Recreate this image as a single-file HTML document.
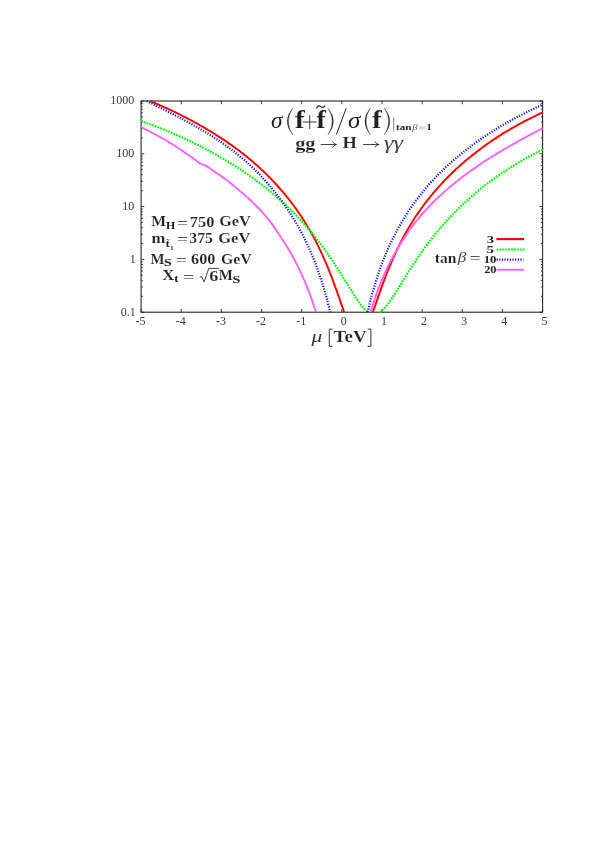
<!DOCTYPE html>
<html><head><meta charset="utf-8"><title>plot</title>
<style>
html,body{margin:0;padding:0;background:#fff;}
body{width:604px;height:854px;overflow:hidden;}
svg{display:block;will-change:transform;}
text{font-family:"Liberation Serif",serif;}
.b{font-weight:bold;stroke:#fff;stroke-width:0.15px;}
.bs{font-weight:bold;}
.i{font-style:italic;}
</style></head><body>
<svg width="604" height="854" viewBox="0 0 604 854" fill="#222">
<rect width="604" height="854" fill="#fff"/>
<!-- axes -->
<g fill="none" stroke="#262626" stroke-width="1.1">
<rect x="141.10" y="101.00" width="401.50" height="211.20"/>
<path d="M141.10 312.20v-3.2M141.10 101.00v3.2M181.25 312.20v-3.2M181.25 101.00v3.2M221.40 312.20v-3.2M221.40 101.00v3.2M261.55 312.20v-3.2M261.55 101.00v3.2M301.70 312.20v-3.2M301.70 101.00v3.2M341.85 312.20v-3.2M341.85 101.00v3.2M382.00 312.20v-3.2M382.00 101.00v3.2M422.15 312.20v-3.2M422.15 101.00v3.2M462.30 312.20v-3.2M462.30 101.00v3.2M502.45 312.20v-3.2M502.45 101.00v3.2M542.60 312.20v-3.2M542.60 101.00v3.2M141.10 312.20h3.2M542.60 312.20h-3.2M141.10 296.31h1.7M542.60 296.31h-1.7M141.10 287.01h1.7M542.60 287.01h-1.7M141.10 280.41h1.7M542.60 280.41h-1.7M141.10 275.29h1.7M542.60 275.29h-1.7M141.10 271.11h1.7M542.60 271.11h-1.7M141.10 267.58h1.7M542.60 267.58h-1.7M141.10 264.52h1.7M542.60 264.52h-1.7M141.10 261.82h1.7M542.60 261.82h-1.7M141.10 259.40h3.2M542.60 259.40h-3.2M141.10 243.51h1.7M542.60 243.51h-1.7M141.10 234.21h1.7M542.60 234.21h-1.7M141.10 227.61h1.7M542.60 227.61h-1.7M141.10 222.49h1.7M542.60 222.49h-1.7M141.10 218.31h1.7M542.60 218.31h-1.7M141.10 214.78h1.7M542.60 214.78h-1.7M141.10 211.72h1.7M542.60 211.72h-1.7M141.10 209.02h1.7M542.60 209.02h-1.7M141.10 206.60h3.2M542.60 206.60h-3.2M141.10 190.71h1.7M542.60 190.71h-1.7M141.10 181.41h1.7M542.60 181.41h-1.7M141.10 174.81h1.7M542.60 174.81h-1.7M141.10 169.69h1.7M542.60 169.69h-1.7M141.10 165.51h1.7M542.60 165.51h-1.7M141.10 161.98h1.7M542.60 161.98h-1.7M141.10 158.92h1.7M542.60 158.92h-1.7M141.10 156.22h1.7M542.60 156.22h-1.7M141.10 153.80h3.2M542.60 153.80h-3.2M141.10 137.91h1.7M542.60 137.91h-1.7M141.10 128.61h1.7M542.60 128.61h-1.7M141.10 122.01h1.7M542.60 122.01h-1.7M141.10 116.89h1.7M542.60 116.89h-1.7M141.10 112.71h1.7M542.60 112.71h-1.7M141.10 109.18h1.7M542.60 109.18h-1.7M141.10 106.12h1.7M542.60 106.12h-1.7M141.10 103.42h1.7M542.60 103.42h-1.7M141.10 101.00h3.2M542.60 101.00h-3.2" stroke-width="0.9"/>
</g>
<!-- tick labels -->
<g fill="#383838" font-size="12"><text x="140.6" y="325.4" text-anchor="middle">-5</text><text x="180.8" y="325.4" text-anchor="middle">-4</text><text x="220.9" y="325.4" text-anchor="middle">-3</text><text x="261.0" y="325.4" text-anchor="middle">-2</text><text x="301.2" y="325.4" text-anchor="middle">-1</text><text x="343.8" y="325.4" text-anchor="middle">0</text><text x="383.9" y="325.4" text-anchor="middle">1</text><text x="424.0" y="325.4" text-anchor="middle">2</text><text x="464.2" y="325.4" text-anchor="middle">3</text><text x="504.3" y="325.4" text-anchor="middle">4</text><text x="544.5" y="325.4" text-anchor="middle">5</text><text x="134.3" y="104.3" text-anchor="end">1000</text><text x="134.3" y="157.1" text-anchor="end">100</text><text x="134.3" y="209.9" text-anchor="end">10</text><text x="135.7" y="262.7" text-anchor="end">1</text><text x="135.7" y="315.5" text-anchor="end">0.1</text></g>
<!-- curves -->
<g fill="none" stroke-linejoin="round">
<path d="M150.0 101.0L150.5 101.2L152.0 101.9L153.6 102.5L155.2 103.2L156.7 103.9L158.3 104.5L159.8 105.2L161.4 105.9L163.0 106.6L164.5 107.3L166.1 108.0L167.6 108.7L169.2 109.5L170.8 110.2L172.3 110.9L173.9 111.7L175.5 112.4L177.0 113.2L178.6 113.9L180.1 114.7L181.7 115.5L183.3 116.3L184.8 117.1L186.4 117.9L187.9 118.7L189.5 119.5L191.1 120.3L192.6 121.2L194.2 122.0L195.7 122.8L197.3 123.7L198.9 124.6L200.4 125.5L202.0 126.3L203.6 127.2L205.1 128.1L206.7 129.1L208.2 130.0L209.8 130.9L211.4 131.9L212.9 132.8L214.5 133.8L216.0 134.8L217.6 135.8L219.2 136.8L220.7 137.8L222.3 138.8L223.9 139.9L225.4 140.9L227.0 142.0L228.5 143.1L230.1 144.1L231.7 145.2L233.2 146.4L234.8 147.5L236.3 148.7L237.9 149.8L239.5 151.0L241.0 152.2L242.6 153.4L244.2 154.6L245.7 155.9L247.3 157.1L248.8 158.4L250.4 159.7L252.0 161.0L253.5 162.4L255.1 163.7L256.6 165.1L258.2 166.5L259.8 167.9L261.3 169.4L262.9 170.8L264.4 172.3L266.0 173.8L267.6 175.4L269.1 177.0L270.7 178.5L272.3 180.2L273.8 181.8L275.4 183.5L276.9 185.2L278.5 187.0L280.1 188.8L281.6 190.5L282.1 191.1L282.6 191.7L283.2 192.3L283.7 192.9L284.2 193.5L284.7 194.1L285.2 194.8L285.7 195.4L286.2 196.0L286.7 196.6L287.2 197.2L287.7 197.9L288.2 198.5L288.8 199.2L289.3 199.8L289.8 200.5L290.3 201.1L290.8 201.8L291.3 202.4L291.8 203.1L292.3 203.8L292.8 204.5L293.3 205.1L293.9 205.8L294.4 206.5L294.9 207.2L295.4 207.9L295.9 208.6L296.4 209.4L296.9 210.1L297.4 210.8L297.9 211.5L298.4 212.3L299.0 213.0L299.5 213.7L300.0 214.5L300.5 215.3L301.0 216.0L301.5 216.8L302.0 217.6L302.5 218.4L303.0 219.1L303.5 219.9L304.0 220.7L304.6 221.5L305.1 222.4L305.6 223.2L306.1 224.0L306.6 224.9L307.1 225.7L307.6 226.5L308.1 227.4L308.6 228.3L309.1 229.1L309.7 230.0L310.2 230.9L310.7 231.8L311.2 232.7L311.7 233.6L312.2 234.5L312.7 235.5L313.2 236.4L313.7 237.3L314.2 238.3L314.7 239.3L315.3 240.2L315.8 241.2L316.3 242.2L316.8 243.2L317.3 244.2L317.8 245.2L318.3 246.3L318.8 247.3L319.3 248.4L319.8 249.4L320.4 250.5L320.9 251.6L321.4 252.7L321.9 253.8L322.4 254.9L322.9 256.0L323.4 257.1L323.9 258.3L324.4 259.4L324.9 260.6L325.5 261.8L326.0 263.0L326.5 264.2L327.0 265.4L327.5 266.6L328.0 267.9L328.5 269.1L329.0 270.4L329.5 271.7L330.0 273.0L330.5 274.3L331.1 275.6L331.6 276.9L332.1 278.2L332.6 279.6L333.1 280.9L333.6 282.3L334.1 283.7L334.6 285.1L335.1 286.5L335.6 287.9L336.2 289.3L336.7 290.8L337.2 292.2L337.7 293.7L338.2 295.1L338.7 296.6L339.2 298.0L339.7 299.5L340.2 301.0L340.7 302.4L341.2 303.9L341.8 305.4L342.3 306.8L342.8 308.3L343.3 309.7L343.8 311.2L344.2 312.2M372.8 312.2L373.4 310.8L373.9 309.3L374.4 307.9L374.9 306.4L375.4 305.0L375.9 303.5L376.4 302.0L376.9 300.6L377.4 299.1L377.9 297.6L378.4 296.2L379.0 294.7L379.5 293.2L380.0 291.8L380.5 290.4L381.0 288.9L381.5 287.5L382.0 286.1L382.5 284.7L383.0 283.3L383.5 281.9L384.1 280.5L384.6 279.2L385.1 277.8L385.6 276.5L386.1 275.2L386.6 273.8L387.1 272.5L387.6 271.3L388.1 270.0L388.6 268.7L389.1 267.5L389.7 266.2L390.2 265.0L390.7 263.8L391.2 262.6L391.7 261.4L392.2 260.2L392.7 259.1L393.2 257.9L393.7 256.8L394.2 255.6L394.8 254.5L395.3 253.4L395.8 252.3L396.3 251.2L396.8 250.1L397.3 249.1L397.8 248.0L398.3 247.0L398.8 245.9L399.3 244.9L399.9 243.9L400.4 242.9L400.9 241.9L401.4 240.9L401.9 239.9L402.4 239.0L402.9 238.0L403.4 237.0L403.9 236.1L404.4 235.2L404.9 234.2L405.5 233.3L406.0 232.4L406.5 231.5L407.0 230.6L407.5 229.8L408.0 228.9L408.5 228.0L409.0 227.2L409.5 226.3L410.0 225.5L410.6 224.6L411.1 223.8L411.6 223.0L412.1 222.2L412.6 221.4L413.1 220.6L413.6 219.8L414.1 219.0L415.6 216.6L417.2 214.4L418.7 212.1L420.2 210.0L421.8 207.8L423.3 205.7L424.8 203.7L426.4 201.7L427.9 199.7L429.4 197.8L430.9 195.9L432.5 194.1L434.0 192.2L435.5 190.5L437.1 188.7L438.6 187.0L440.1 185.3L441.7 183.6L443.2 182.0L444.7 180.4L446.2 178.8L447.8 177.2L449.3 175.7L450.8 174.2L452.4 172.7L453.9 171.3L455.4 169.8L456.9 168.4L458.5 167.0L460.0 165.6L461.5 164.3L463.1 162.9L464.6 161.6L466.1 160.3L467.7 159.0L469.2 157.8L470.7 156.5L472.2 155.3L473.8 154.1L475.3 152.9L476.8 151.7L478.4 150.5L479.9 149.4L481.4 148.2L482.9 147.1L484.5 146.0L486.0 144.9L487.5 143.8L489.1 142.7L490.6 141.7L492.1 140.6L493.7 139.6L495.2 138.6L496.7 137.6L498.2 136.6L499.8 135.6L501.3 134.6L502.8 133.7L504.4 132.7L505.9 131.8L507.4 130.9L509.0 130.0L510.5 129.1L512.0 128.2L513.5 127.3L515.1 126.4L516.6 125.6L518.1 124.7L519.7 123.9L521.2 123.1L522.7 122.3L524.2 121.4L525.8 120.6L527.3 119.9L528.8 119.1L530.4 118.3L531.9 117.6L533.4 116.8L535.0 116.1L536.5 115.3L538.0 114.6L539.5 113.9L541.1 113.2L542.6 112.5" stroke="#ff0000" stroke-width="1.95"/>
<path d="M141.1 120.9L142.7 121.5L144.2 122.0L145.8 122.6L147.3 123.2L148.9 123.8L150.5 124.3L152.0 124.9L153.6 125.5L155.2 126.1L156.7 126.7L158.3 127.3L159.8 127.9L161.4 128.6L163.0 129.2L164.5 129.8L166.1 130.5L167.6 131.1L169.2 131.8L170.8 132.4L172.3 133.1L173.9 133.8L175.5 134.5L177.0 135.1L178.6 135.8L180.1 136.5L181.7 137.2L183.3 137.9L184.8 138.7L186.4 139.4L187.9 140.1L189.5 140.9L191.1 141.6L192.6 142.4L194.2 143.1L195.7 143.9L197.3 144.7L198.9 145.5L200.4 146.3L202.0 147.0L203.6 147.9L205.1 148.7L206.7 149.5L208.2 150.3L209.8 151.2L211.4 152.0L212.9 152.9L214.5 153.7L216.0 154.6L217.6 155.5L219.2 156.4L220.7 157.3L222.3 158.2L223.9 159.1L225.4 160.0L227.0 161.0L228.5 161.9L230.1 162.9L231.7 163.8L233.2 164.8L234.8 165.8L236.3 166.8L237.9 167.8L239.5 168.8L241.0 169.8L242.6 170.9L244.2 171.9L245.7 173.0L247.3 174.1L248.8 175.2L250.4 176.3L252.0 177.4L253.5 178.5L255.1 179.6L256.6 180.8L258.2 182.0L259.8 183.1L261.3 184.3L262.9 185.5L264.4 186.8L266.0 188.0L267.6 189.2L269.1 190.5L270.7 191.8L272.3 193.1L273.8 194.4L275.4 195.7L276.9 197.1L278.5 198.5L280.1 199.9L281.6 201.3L282.1 201.7L282.6 202.2L283.2 202.7L283.7 203.1L284.2 203.6L284.7 204.1L285.2 204.6L285.7 205.0L286.2 205.5L286.7 206.0L287.2 206.5L287.7 207.0L288.2 207.5L288.8 207.9L289.3 208.4L289.8 208.9L290.3 209.4L290.8 209.9L291.3 210.4L291.8 210.9L292.3 211.5L292.8 212.0L293.3 212.5L293.9 213.0L294.4 213.5L294.9 214.0L295.4 214.6L295.9 215.1L296.4 215.6L296.9 216.1L297.4 216.7L297.9 217.2L298.4 217.8L299.0 218.3L299.5 218.8L300.0 219.4L300.5 219.9L301.0 220.5L301.5 221.0L302.0 221.6L302.5 222.2L303.0 222.7L303.5 223.3L304.0 223.9L304.6 224.4L305.1 225.0L305.6 225.6L306.1 226.2L306.6 226.7L307.1 227.3L307.6 227.9L308.1 228.5L308.6 229.1L309.1 229.7L309.7 230.3L310.2 230.9L310.7 231.5L311.2 232.1L311.7 232.8L312.2 233.4L312.7 234.0L313.2 234.6L313.7 235.2L314.2 235.9L314.7 236.5L315.3 237.1L315.8 237.8L316.3 238.4L316.8 239.1L317.3 239.7L317.8 240.4L318.3 241.0L318.8 241.7L319.3 242.4L319.8 243.0L320.4 243.7L320.9 244.4L321.4 245.1L321.9 245.6L322.4 246.3L322.9 247.0L323.4 247.7L323.9 248.4L324.4 249.1L324.9 249.8L325.5 250.5L326.0 251.3L326.5 252.0L327.0 252.7L327.5 253.4L328.0 254.2L328.5 254.9L329.0 255.6L329.5 256.4L330.0 257.1L330.5 257.9L331.1 258.6L331.6 259.4L332.1 260.1L332.6 260.9L333.1 261.7L333.6 262.4L334.1 263.2L334.6 264.0L335.1 264.8L335.6 265.5L336.2 266.3L336.7 267.1L337.2 267.9L337.7 268.7L338.2 269.5L338.7 270.3L339.2 271.1L339.7 271.9L340.2 272.7L340.7 273.6L341.2 274.4L341.8 275.2L342.3 276.0L342.8 276.8L343.3 277.6L343.8 278.5L344.3 279.3L344.8 280.1L345.3 280.9L345.8 281.8L346.3 282.6L346.9 283.4L347.4 284.3L347.9 285.1L348.4 285.9L348.9 286.7L349.4 287.6L349.9 288.4L350.4 289.2L350.9 290.0L351.4 290.8L351.9 291.7L352.5 292.5L353.0 293.3L353.5 294.1L354.0 294.9L354.5 295.6L355.0 296.4L355.5 297.2L356.0 298.0L356.5 298.7L357.0 299.5L357.6 300.2L358.1 301.0L358.6 301.7L359.1 302.4L359.6 303.1L360.1 303.8L360.6 304.4L361.1 305.1L361.6 305.7L362.1 306.3L362.7 306.9L363.2 307.5L363.7 308.1L364.2 308.6L364.7 309.2L365.2 309.7L365.7 310.1L366.2 310.6L366.7 311.0L367.2 311.4L367.7 311.8L368.3 312.2L368.3 312.2M379.9 312.2L380.0 312.2L380.5 311.8L381.0 311.4L381.5 311.0L382.0 310.6L382.5 310.1L383.0 309.6L383.5 309.1L384.1 308.6L384.6 308.1L385.1 307.5L385.6 306.9L386.1 306.3L386.6 305.7L387.1 305.0L387.6 304.4L388.1 303.7L388.6 303.0L389.1 302.3L389.7 301.6L390.2 300.9L390.7 300.2L391.2 299.4L391.7 298.7L392.2 297.9L392.7 297.2L393.2 296.4L393.7 295.6L394.2 294.8L394.8 294.0L395.3 293.2L395.8 292.4L396.3 291.6L396.8 290.8L397.3 290.0L397.8 289.2L398.3 288.3L398.8 287.5L399.3 286.7L399.9 285.9L400.4 285.0L400.9 284.2L401.4 283.4L401.9 282.5L402.4 281.7L402.9 280.9L403.4 280.1L403.9 279.2L404.4 278.4L404.9 277.6L405.5 276.8L406.0 275.9L406.5 275.1L407.0 274.3L407.5 273.5L408.0 272.7L408.5 271.9L409.0 271.0L409.5 270.2L410.0 269.4L410.6 268.6L411.1 267.8L411.6 267.0L412.1 266.3L412.6 265.5L413.1 264.7L413.6 263.9L414.1 263.1L415.6 260.8L417.2 258.5L418.7 256.3L420.2 254.1L421.8 251.9L423.3 249.8L424.8 247.7L426.4 245.6L427.9 243.5L429.4 241.5L430.9 239.5L432.5 237.6L434.0 235.7L435.5 233.8L437.1 231.9L438.6 230.1L440.1 228.3L441.7 226.5L443.2 224.7L444.7 223.0L446.2 221.3L447.8 219.6L449.3 218.0L450.8 216.3L452.4 214.7L453.9 213.2L455.4 211.6L456.9 210.1L458.5 208.5L460.0 207.0L461.5 205.6L463.1 204.1L464.6 202.7L466.1 201.3L467.7 199.9L469.2 198.5L470.7 197.2L472.2 195.8L473.8 194.5L475.3 193.2L476.8 191.9L478.4 190.6L479.9 189.4L481.4 188.1L482.9 186.9L484.5 185.7L486.0 184.5L487.5 183.4L489.1 182.2L490.6 181.0L492.1 179.9L493.7 178.8L495.2 177.7L496.7 176.6L498.2 175.5L499.8 174.5L501.3 173.4L502.8 172.4L504.4 171.4L505.9 170.4L507.4 169.4L509.0 168.4L510.5 167.4L512.0 166.5L513.5 165.5L515.1 164.6L516.6 163.7L518.1 162.8L519.7 161.9L521.2 161.0L522.7 160.1L524.2 159.2L525.8 158.4L527.3 157.5L528.8 156.7L530.4 155.9L531.9 155.1L533.4 154.3L535.0 153.5L536.5 152.7L538.0 152.0L539.5 151.2L541.1 150.5L542.6 149.8" stroke="#00ff00" stroke-width="2.1" stroke-dasharray="1.8 1.1"/>
<path d="M146.7 101.0L147.3 101.3L148.9 102.1L150.5 102.9L152.0 103.6L153.6 104.4L155.2 105.2L156.7 106.0L158.3 106.8L159.8 107.5L161.4 108.3L163.0 109.1L164.5 109.9L166.1 110.7L167.6 111.5L169.2 112.2L170.8 113.0L172.3 113.8L173.9 114.6L175.5 115.5L177.0 116.3L178.6 117.1L180.1 117.9L181.7 118.7L183.3 119.6L184.8 120.4L186.4 121.2L187.9 122.1L189.5 122.9L191.1 123.8L192.6 124.7L194.2 125.6L195.7 126.4L197.3 127.3L198.9 128.2L200.4 129.1L202.0 130.1L203.6 131.0L205.1 131.9L206.7 132.9L208.2 133.8L209.8 134.8L211.4 135.8L212.9 136.8L214.5 137.8L216.0 138.8L217.6 139.9L219.2 140.9L220.7 142.0L222.3 143.0L223.9 144.1L225.4 145.2L227.0 146.4L228.5 147.5L230.1 148.7L231.7 149.8L233.2 151.0L234.8 152.2L236.3 153.5L237.9 154.7L239.5 156.0L241.0 157.3L242.6 158.6L244.2 159.9L245.7 161.3L247.3 162.7L248.8 164.1L250.4 165.5L252.0 167.0L253.5 168.5L255.1 170.0L256.6 171.5L258.2 173.1L259.8 174.7L261.3 176.4L262.9 178.0L264.4 179.7L266.0 181.5L267.6 183.3L269.1 185.1L270.7 187.0L272.3 188.9L273.8 190.8L275.4 192.8L276.9 194.8L278.5 197.0L280.1 199.0L281.6 201.1L282.1 201.8L282.6 202.5L283.2 203.2L283.7 203.9L284.2 204.6L284.7 205.3L285.2 206.0L285.7 206.8L286.2 207.5L286.7 208.2L287.2 209.0L287.7 209.7L288.2 210.5L288.8 211.3L289.3 212.0L289.8 212.8L290.3 213.6L290.8 214.4L291.3 215.2L291.8 216.0L292.3 216.8L292.8 217.6L293.3 218.4L293.9 219.3L294.4 220.1L294.9 220.9L295.4 221.8L295.9 222.7L296.4 223.5L296.9 224.4L297.4 225.3L297.9 226.2L298.4 227.1L299.0 228.0L299.5 228.9L300.0 229.9L300.5 230.8L301.0 231.7L301.5 232.7L302.0 233.7L302.5 234.6L303.0 235.6L303.5 236.6L304.0 237.6L304.6 238.7L305.1 239.7L305.6 240.7L306.1 241.8L306.6 242.9L307.1 243.9L307.6 245.0L308.1 246.1L308.6 247.3L309.1 248.4L309.7 249.5L310.2 250.7L310.7 251.9L311.2 253.0L311.7 254.3L312.2 255.5L312.7 256.7L313.2 257.9L313.7 259.2L314.2 260.5L314.7 261.8L315.3 263.1L315.8 264.4L316.3 265.8L316.8 267.2L317.3 268.6L317.8 270.0L318.3 271.4L318.8 272.8L319.3 274.3L319.8 275.8L320.4 277.3L320.9 278.9L321.4 280.4L321.9 282.0L322.4 283.6L322.9 285.3L323.4 286.9L323.9 288.6L324.4 290.4L324.9 292.1L325.5 293.9L326.0 295.7L326.5 297.6L327.0 299.4L327.5 301.4L328.0 303.3L328.5 305.3L329.0 307.3L329.5 309.3L330.0 311.4L330.2 312.2M367.7 312.2L367.7 311.9L368.3 309.7L368.8 307.5L369.3 305.4L369.8 303.3L370.3 301.3L370.8 299.3L371.3 297.3L371.8 295.4L372.3 293.5L372.8 291.7L373.4 289.9L373.9 288.1L374.4 286.4L374.9 284.7L375.4 283.0L375.9 281.4L376.4 279.7L376.9 278.2L377.4 276.6L377.9 275.0L378.4 273.5L379.0 272.0L379.5 270.6L380.0 269.1L380.5 267.7L381.0 266.3L381.5 264.9L382.0 263.6L382.5 262.2L383.0 260.9L383.5 259.6L384.1 258.3L384.6 257.1L385.1 255.8L385.6 254.6L386.1 253.3L386.6 252.1L387.1 251.0L387.6 249.8L388.1 248.6L388.6 247.5L389.1 246.4L389.7 245.2L390.2 244.1L390.7 243.0L391.2 242.0L391.7 240.9L392.2 239.8L392.7 238.8L393.2 237.8L393.7 236.8L394.2 235.8L394.8 234.8L395.3 233.8L395.8 232.8L396.3 231.8L396.8 230.9L397.3 229.9L397.8 229.0L398.3 228.1L398.8 227.1L399.3 226.2L399.9 225.3L400.4 224.4L400.9 223.6L401.4 222.7L401.9 221.8L402.4 221.0L402.9 220.1L403.4 219.3L403.9 218.4L404.4 217.6L404.9 216.8L405.5 216.0L406.0 215.2L406.5 214.3L407.0 213.5L407.5 212.7L408.0 212.0L408.5 211.2L409.0 210.4L409.5 209.7L410.0 208.9L410.6 208.2L411.1 207.4L411.6 206.7L412.1 205.9L412.6 205.2L413.1 204.5L413.6 203.8L414.1 203.1L415.6 201.0L417.2 199.0L418.7 197.0L420.2 195.0L421.8 193.1L423.3 191.2L424.8 189.4L426.4 187.5L427.9 185.8L429.4 184.0L430.9 182.3L432.5 180.7L434.0 179.0L435.5 177.4L437.1 175.8L438.6 174.2L440.1 172.7L441.7 171.2L443.2 169.7L444.7 168.2L446.2 166.8L447.8 165.4L449.3 164.0L450.8 162.6L452.4 161.3L453.9 159.9L455.4 158.6L456.9 157.3L458.5 156.0L460.0 154.8L461.5 153.5L463.1 152.3L464.6 151.1L466.1 149.9L467.7 148.7L469.2 147.5L470.7 146.4L472.2 145.2L473.8 144.1L475.3 143.0L476.8 141.9L478.4 140.8L479.9 139.8L481.4 138.7L482.9 137.7L484.5 136.6L486.0 135.6L487.5 134.6L489.1 133.6L490.6 132.6L492.1 131.6L493.7 130.7L495.2 129.7L496.7 128.8L498.2 127.9L499.8 126.9L501.3 126.0L502.8 125.1L504.4 124.2L505.9 123.3L507.4 122.5L509.0 121.6L510.5 120.7L512.0 119.9L513.5 119.1L515.1 118.2L516.6 117.4L518.1 116.6L519.7 115.8L521.2 115.0L522.7 114.2L524.2 113.4L525.8 112.6L527.3 111.9L528.8 111.1L530.4 110.4L531.9 109.6L533.4 108.9L535.0 108.1L536.5 107.4L538.0 106.7L539.5 106.0L541.1 105.3L542.6 104.6" stroke="#0000ff" stroke-width="2.2" stroke-dasharray="1.1 1.55"/>
<path d="M141.1 127.0L142.7 127.8L144.2 128.6L145.8 129.4L147.3 130.2L148.9 131.0L150.5 131.8L152.0 132.7L153.6 133.5L155.2 134.3L156.7 135.2L158.3 136.1L159.8 136.9L161.4 137.8L163.0 138.7L164.5 139.6L166.1 140.5L167.6 141.4L169.2 142.4L170.8 143.3L172.3 144.3L173.9 145.3L175.5 146.3L177.0 147.3L178.6 148.3L180.1 149.3L181.7 150.4L183.3 151.4L184.8 152.5L186.4 153.6L187.9 154.7L189.5 155.8L191.1 156.8L192.6 157.9L194.2 159.0L195.7 160.2L197.3 161.4L198.9 162.6L200.4 163.6L202.0 164.3L203.6 164.8L205.1 165.3L206.7 166.1L208.2 167.1L209.8 168.3L211.4 169.4L212.9 170.5L214.5 171.6L216.0 172.6L217.6 173.7L219.2 174.7L220.7 175.8L222.3 176.9L223.9 178.0L225.4 179.2L227.0 180.3L228.5 181.6L230.1 182.8L231.7 184.0L233.2 185.3L234.8 186.6L236.3 187.9L237.9 189.2L239.5 190.6L241.0 191.9L242.6 193.3L244.2 194.6L245.7 196.0L247.3 197.4L248.8 198.8L250.4 200.3L252.0 201.7L253.5 203.2L255.1 204.7L256.6 206.3L258.2 207.8L259.8 209.5L261.3 211.1L262.9 212.9L264.4 214.6L266.0 216.5L267.6 218.4L269.1 220.3L270.7 222.3L272.3 224.4L273.8 226.6L275.4 228.9L276.9 231.2L278.5 233.8L280.1 236.0L281.6 238.3L282.1 239.1L282.6 239.8L283.2 240.6L283.7 241.4L284.2 242.2L284.7 243.0L285.2 243.8L285.7 244.6L286.2 245.4L286.7 246.2L287.2 247.1L287.7 247.9L288.2 248.7L288.8 249.6L289.3 250.5L289.8 251.3L290.3 252.2L290.8 253.1L291.3 254.0L291.8 254.9L292.3 255.8L292.8 256.7L293.3 257.7L293.9 258.6L294.4 259.6L294.9 260.5L295.4 261.5L295.9 262.5L296.4 263.5L296.9 264.5L297.4 265.5L297.9 266.5L298.4 267.5L299.0 268.6L299.5 269.6L300.0 270.7L300.5 271.8L301.0 272.9L301.5 274.0L302.0 275.1L302.5 276.2L303.0 277.4L303.5 278.6L304.0 279.7L304.6 280.9L305.1 282.1L305.6 283.4L306.1 284.6L306.6 285.8L307.1 287.1L307.6 288.4L308.1 289.7L308.6 291.0L309.1 292.4L309.7 293.7L310.2 295.1L310.7 296.5L311.2 297.9L311.7 299.3L312.2 300.8L312.7 302.3L313.2 303.8L313.7 305.3L314.2 306.9L314.7 308.4L315.3 310.0L315.8 311.6L315.9 312.2M370.6 312.2L370.8 311.5L371.3 309.8L371.8 308.1L372.3 306.4L372.8 304.8L373.4 303.2L373.9 301.6L374.4 300.0L374.9 298.5L375.4 297.0L375.9 295.6L376.4 294.1L376.9 292.7L377.4 291.3L377.9 289.9L378.4 288.6L379.0 287.2L379.5 285.9L380.0 284.6L380.5 283.3L381.0 282.1L381.5 280.8L382.0 279.6L382.5 278.4L383.0 277.2L383.5 276.0L384.1 274.9L384.6 273.7L385.1 272.6L385.6 271.5L386.1 270.4L386.6 269.3L387.1 268.2L387.6 267.1L388.1 266.1L388.6 265.1L389.1 264.0L389.7 263.0L390.2 262.0L390.7 261.0L391.2 260.0L391.7 259.1L392.2 258.1L392.7 257.1L393.2 256.2L393.7 255.3L394.2 254.4L394.8 253.4L395.3 252.5L395.8 251.6L396.3 250.8L396.8 249.9L397.3 249.0L397.8 248.1L398.3 247.3L398.8 246.5L399.3 245.6L399.9 244.8L400.4 244.0L400.9 243.2L401.4 242.3L401.9 241.5L402.4 240.8L402.9 240.0L403.4 239.2L403.9 238.4L404.4 237.6L404.9 236.9L405.5 236.1L406.0 235.4L406.5 234.1L407.0 233.4L407.5 232.7L408.0 232.0L408.5 231.3L409.0 230.6L409.5 229.9L410.0 229.2L410.6 228.5L411.1 227.8L411.6 227.1L412.1 226.4L412.6 225.8L413.1 225.1L413.6 224.4L414.1 223.8L415.6 221.9L417.2 220.0L418.7 218.1L420.2 216.3L421.8 214.5L423.3 212.8L424.8 211.1L426.4 209.4L427.9 207.7L429.4 206.1L430.9 204.5L432.5 203.0L434.0 201.5L435.5 199.9L437.1 198.5L438.6 197.0L440.1 195.6L441.7 194.2L443.2 192.8L444.7 191.4L446.2 190.1L447.8 188.7L449.3 187.4L450.8 186.1L452.4 184.9L453.9 183.6L455.4 182.4L456.9 181.2L458.5 179.9L460.0 178.8L461.5 177.6L463.1 176.4L464.6 175.3L466.1 174.1L467.7 173.0L469.2 172.0L470.7 170.9L472.2 169.9L473.8 168.9L475.3 167.9L476.8 166.8L478.4 165.6L479.9 164.5L481.4 163.3L482.9 162.2L484.5 161.2L486.0 160.3L487.5 159.4L489.1 158.5L490.6 157.5L492.1 156.6L493.7 155.6L495.2 154.7L496.7 153.8L498.2 152.8L499.8 151.9L501.3 151.0L502.8 150.1L504.4 149.2L505.9 148.3L507.4 147.4L509.0 146.5L510.5 145.7L512.0 144.8L513.5 143.9L515.1 143.1L516.6 142.2L518.1 141.4L519.7 140.5L521.2 139.7L522.7 138.8L524.2 138.0L525.8 137.2L527.3 136.3L528.8 135.5L530.4 134.7L531.9 133.9L533.4 133.0L535.0 132.2L536.5 131.4L538.0 130.6L539.5 129.8L541.1 129.0L542.6 128.2" stroke="#ff60ff" stroke-width="1.9"/>
</g>
<text class="i" font-size="26" transform="matrix(0.901 0 0 0.873 270.92 128.08)">σ</text>
<text class="b" font-size="26" transform="matrix(1.166 0 0 0.980 294.85 127.80)">f</text>
<text class="b" font-size="26" transform="matrix(1.120 0 0 0.980 316.26 127.80)">f</text>
<text class="i" font-size="26" transform="matrix(0.963 0 0 0.873 347.88 128.08)">σ</text>
<text class="b" font-size="26" transform="matrix(1.131 0 0 0.980 372.06 127.80)">f</text>
<text class="bs" font-size="9" transform="matrix(1.241 0 0 1.029 395.94 129.97)">tan</text>
<text class="i" fill="#555" font-size="9" transform="matrix(1.189 0 0 1.018 412.25 130.29)">β</text>
<text class="bs" font-size="9" transform="matrix(1.262 0 0 0.867 426.25 130.10)">1</text>
<text class="b" font-size="16" transform="matrix(1.265 0 0 1.038 295.23 148.57)">gg</text>
<text class="b" font-size="16" transform="matrix(1.154 0 0 1.000 342.51 148.20)">H</text>
<text class="i" fill="#444" font-size="17" transform="matrix(1.420 0 0 1.070 383.97 148.92)">γγ</text>
<text class="b" font-size="14" transform="matrix(1.117 0 0 1.030 151.22 226.40)">M</text>
<text class="bs" font-size="10" transform="matrix(1.187 0 0 0.981 165.95 229.00)">H</text>
<text font-size="14" transform="matrix(1.420 0 0 1.086 177.02 227.82)">=</text>
<text class="b" font-size="14" transform="matrix(1.165 0 0 1.021 189.83 226.57)">750</text>
<text class="b" font-size="14" transform="matrix(1.164 0 0 1.042 219.17 226.44)">GeV</text>
<text class="b" font-size="14" transform="matrix(1.191 0 0 0.996 151.45 242.80)">m</text>
<text class="bs" font-size="9" transform="matrix(1.420 0 0 1.067 165.58 247.07)">t</text>
<text class="bs" font-size="6" transform="matrix(1.067 0 0 1.000 170.27 249.60)">1</text>
<text font-size="14" transform="matrix(1.420 0 0 1.086 176.77 244.42)">=</text>
<text class="b" font-size="14" transform="matrix(1.130 0 0 1.035 189.24 242.97)">375</text>
<text class="b" font-size="14" transform="matrix(1.179 0 0 1.042 218.26 242.94)">GeV</text>
<text class="b" font-size="14" transform="matrix(1.061 0 0 0.986 150.43 263.50)">M</text>
<text class="bs" font-size="10" transform="matrix(1.384 0 0 0.963 163.91 265.78)">S</text>
<text font-size="14" transform="matrix(1.420 0 0 1.057 175.82 265.24)">=</text>
<text class="b" font-size="14" transform="matrix(1.160 0 0 1.021 191.02 263.67)">600</text>
<text class="b" font-size="14" transform="matrix(1.130 0 0 1.032 220.99 263.54)">GeV</text>
<text class="b" font-size="14" transform="matrix(1.190 0 0 0.986 162.20 280.40)">X</text>
<text class="bs" font-size="10" transform="matrix(1.248 0 0 1.096 174.24 282.46)">t</text>
<text font-size="14" transform="matrix(1.420 0 0 1.114 183.12 282.00)">=</text>
<text class="b" font-size="14" transform="matrix(1.306 0 0 1.056 209.25 280.67)">6</text>
<text class="b" font-size="14" transform="matrix(1.061 0 0 0.986 218.73 280.40)">M</text>
<text class="bs" font-size="10" transform="matrix(1.420 0 0 0.993 232.56 282.88)">S</text>
<text class="bs" font-size="11.5" transform="matrix(1.280 0 0 0.942 486.72 242.58)">3</text>
<text class="bs" font-size="11.5" transform="matrix(1.313 0 0 0.944 486.54 252.68)">5</text>
<text class="bs" font-size="11.5" transform="matrix(1.112 0 0 0.942 483.73 262.88)">10</text>
<text class="bs" font-size="11.5" transform="matrix(1.073 0 0 0.942 484.16 272.88)">20</text>
<text class="b" font-size="14.5" transform="matrix(1.078 0 0 1.042 434.83 262.57)">tan</text>
<text class="i" fill="#444" font-size="14.5" transform="matrix(1.187 0 0 0.979 457.70 262.44)">β</text>
<text font-size="14.5" transform="matrix(1.319 0 0 0.938 469.71 263.11)">=</text>
<text class="i" fill="#333" font-size="17.5" transform="matrix(1.224 0 0 0.911 311.60 342.19)">μ</text>
<text class="b" font-size="17.5" transform="matrix(1.087 0 0 1.004 333.53 342.45)">TeV</text>
<g fill="#222" stroke="#222" stroke-width="0.3" stroke-linejoin="round">
<path d="M292.7 108.1Q281.7 121.45 292.7 134.8Q284.1 121.45 292.7 108.1Z"/>
<path d="M327.9 108.1Q338.9 121.45 327.9 134.8Q336.5 121.45 327.9 108.1Z"/>
<path d="M370.4 108.1Q359.4 121.45 370.4 134.8Q361.8 121.45 370.4 108.1Z"/>
<path d="M384.3 108.1Q395.3 121.45 384.3 134.8Q392.9 121.45 384.3 108.1Z"/>
</g>
<g fill="none" stroke="#222">
<path d="M302.8 122H316.7M309.7 115.1V129" stroke-width="0.9"/>
<path d="M336.4 134.5L346.2 108.3" stroke-width="1"/>
<path d="M316.4 108.3C317.6 105.4 319.4 105.3 320.8 106.6C322.2 107.9 324 107.9 325.2 105.4" stroke-width="1.2"/>
<path d="M393.7 117.3V131.4" stroke="#777" stroke-width="0.9"/>
<path d="M419 127.2H425.4M419 128.8H425.4" stroke="#888" stroke-width="0.55"/>
<path d="M320.8 144.5H336.2M332.6 141.6Q333.6 143.8 336.5 144.5Q333.6 145.2 332.6 147.4" stroke-width="0.85"/>
<path d="M363.1 144.5H378.5M374.9 141.6Q375.9 143.8 378.8 144.5Q375.9 145.2 374.9 147.4" stroke-width="0.85"/>
<path d="M199.8 277.3L201.5 276.3L204.1 281.9L208.8 268.4H218.8" stroke-width="0.85"/>
<path d="M165.9 240.4C166.5 239.2 167.3 239.2 167.8 239.8C168.3 240.4 169.1 240.4 169.7 239.2" stroke-width="0.7"/>
<path d="M332.6 329.2H329.3V346.3H332.6" stroke-width="0.95"/>
<path d="M367.6 329.2H370.9V346.3H367.6" stroke-width="0.95"/>
</g>
<g fill="none">
<path d="M496.4 239.1H524.2" stroke="#ff0000" stroke-width="2.1"/>
<path d="M496.6 249.5H524.5" stroke="#00ff00" stroke-width="2.1" stroke-dasharray="1.8 1.1"/>
<path d="M496.6 259.7H523.5" stroke="#0000ff" stroke-width="2.2" stroke-dasharray="1.1 1.55"/>
<path d="M496.4 269.8H524.2" stroke="#ff60ff" stroke-width="1.9"/>
</g>

</svg>
</body></html>
